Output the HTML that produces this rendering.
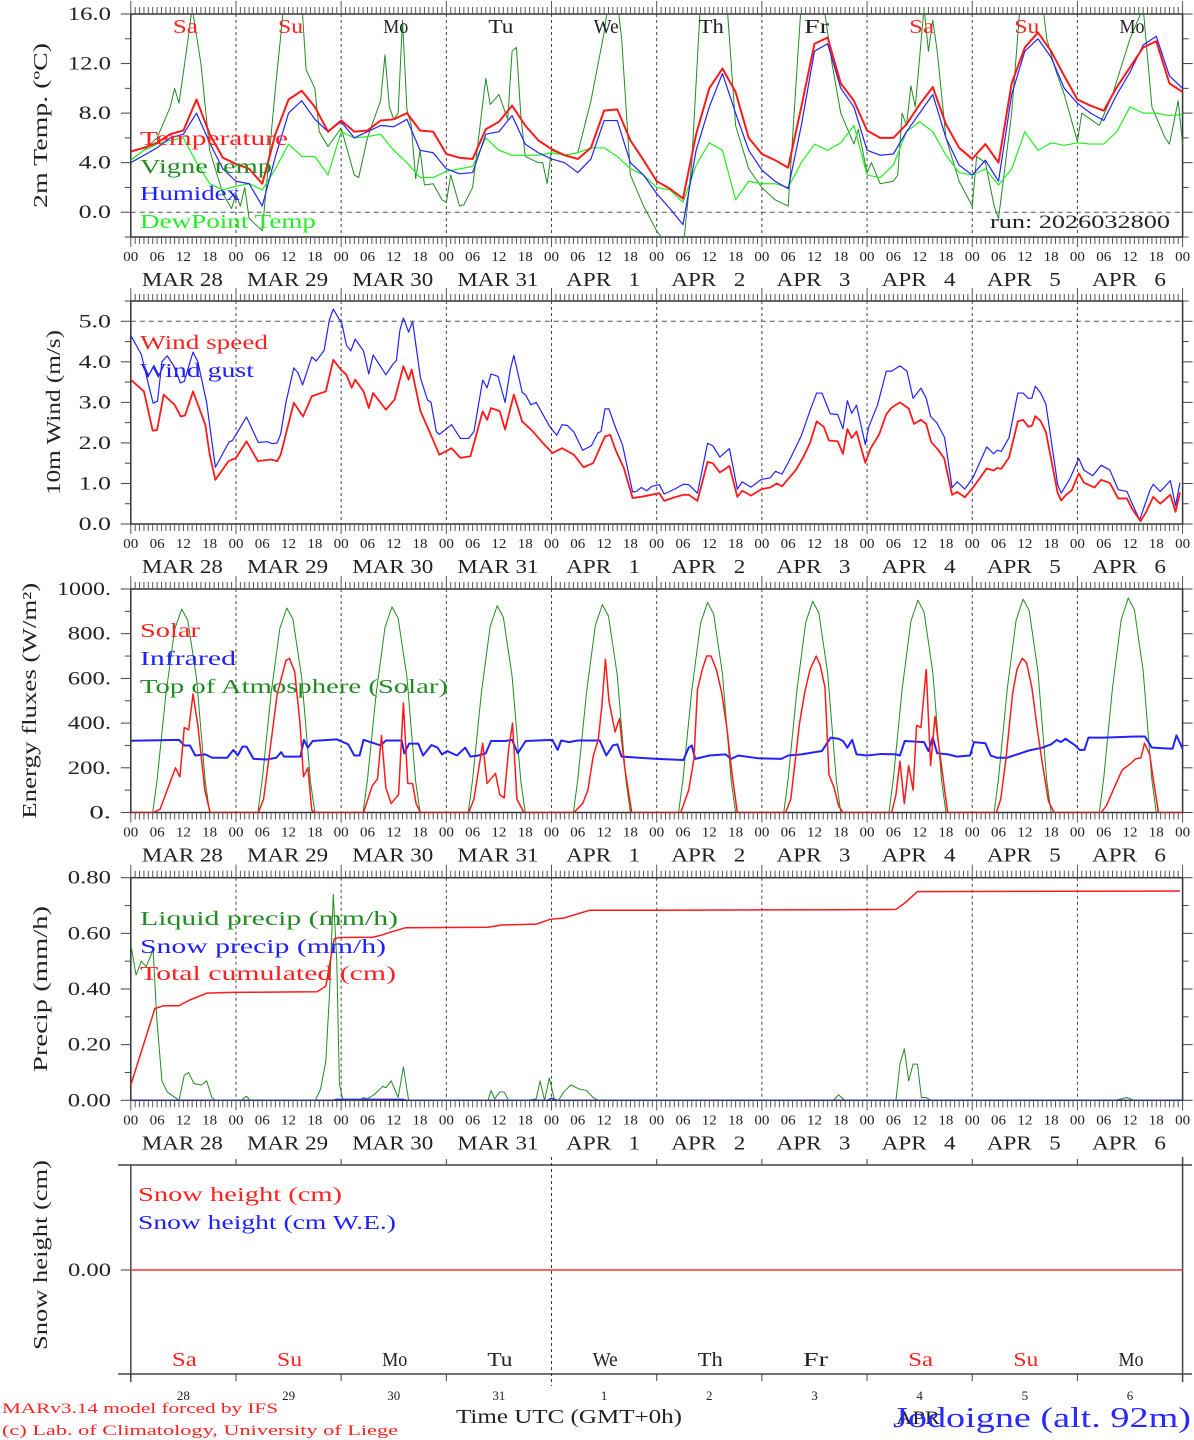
<!DOCTYPE html>
<html><head><meta charset="utf-8"><title>MAR forecast Jodoigne</title>
<style>
html,body{margin:0;padding:0;background:#fff;}
svg{display:block;font-family:"Liberation Serif",serif;}
text{white-space:pre;}
</style></head>
<body>
<svg id="chart" xmlns="http://www.w3.org/2000/svg" width="1194" height="1440" viewBox="0 0 1194 1440"></svg>
<script>
// ---------- DATA ----------
const dayNames = ["Sa","Su","Mo","Tu","We","Th","Fr","Sa","Su","Mo"];
const dayNums = ["28","29","30","31","1","2","3","4","5","6"];
const dateLabels = ["MAR 28","MAR 29","MAR 30","MAR 31","APR   1","APR   2","APR   3","APR   4","APR   5","APR   6"];
const hourLabels = ["00","06","12","18"];

// Panel 1 (3-hourly, h=0..240)
const tempVals = [4.9,5.2,5.6,6.3,6.6,9.1,6.3,4.4, 3.9,3.5,2.3,6.3,9.1,9.8,8.5,6.5, 7.4,6.5,6.6,7.4,7.5,8.0,6.6,6.5, 4.7,4.4,4.3,6.7,7.3,8.6,7.0,5.8, 5.1,4.6,4.3,5.2,8.2,8.3,5.8,4.2, 2.5,1.9,1.1,6.3,10.0,11.6,9.7,6.0, 4.7,4.2,3.6,8.5,13.6,14.1,10.4,9.0, 6.6,6.0,6.0,7.1,8.7,10.1,7.1,5.2, 4.3,5.5,4.0,10.4,13.3,14.5,13.0,11.0, 9.1,8.6,8.2,10.1,11.7,13.3,13.8,10.4, 9.7];
const humidexVals = [4.0,4.6,5.2,6.0,6.3,8.0,5.6,3.5, 2.5,2.3,0.5,4.5,8.0,9.0,7.5,6.5, 7.3,6.0,6.5,7.0,6.9,7.5,5.0,4.8, 3.5,3.1,3.2,6.3,6.5,7.8,5.5,4.8, 4.3,4.0,3.2,4.3,7.4,7.4,4.0,3.0, 1.5,0.3,-1.0,5.0,8.5,11.2,8.0,5.0, 3.4,2.5,1.9,7.0,13.0,13.6,10.0,8.5, 5.0,4.6,4.7,6.5,8.0,9.5,6.0,3.8, 3.0,4.2,2.5,9.5,13.0,14.0,12.5,10.0, 8.8,8.0,7.4,9.5,11.3,13.5,14.2,11.0, 10.0];
const dewVals = [4.2,5.0,5.5,5.8,6.0,4.0,2.3,1.8, 2.1,2.3,1.8,3.5,5.5,4.5,4.5,3.0, 6.5,6.0,6.1,6.3,5.0,4.0,2.8,2.8, 3.3,3.5,3.7,6.0,5.0,4.6,4.6,4.6, 4.8,4.6,4.8,5.2,5.2,4.5,3.5,3.0, 2.0,1.8,0.8,3.8,5.6,5.0,1.0,2.5, 2.3,2.3,2.0,4.0,5.5,5.0,5.6,7.0, 3.0,2.8,3.8,6.5,7.3,6.5,4.6,3.2, 3.0,3.5,2.2,3.5,6.5,5.0,5.6,5.4, 5.6,5.5,5.5,6.5,8.5,8.0,8.0,7.8, 7.9];
const vigneHours = [0,3,6,9,10,11,13,14,16,18,21,23,24,25,26,27,30,33,35,39,40,42,43,45,48,51,52,54,57,58,59,60,61,62,63,64,65,66,67,69,71,72,73,75,76,78,81,82,84,86,87,88,89,90,93,94,95,96,99,102,105,108,109,111,112,114,117,120,122,123,126,128,130,136,137,138,141,144,147,150,153,158,160,162,165,166,168,169,171,174,175,176,177,178,179,181,182,183,184,186,189,192,193,195,197,198,201,203,208,209,211,213,216,217,219,221,224,228,231,233,236,237,239,240];
const vigneVals = [4.2,5.0,6.0,8.5,10.0,8.8,13.8,16.5,12,5.0,1.5,0.3,1.5,0.5,2.0,-0.5,-1.5,10.0,17,17,11.5,10.0,6.5,5.3,6.8,3.0,2.8,6.0,9.0,12.7,8.5,7.5,8.0,15.5,8.3,7.0,2.7,5.0,2.2,2.3,1.0,0.8,3.0,0.5,0.6,2.0,10.8,8.7,9.5,7.5,13.0,13.3,7.8,4.5,4.0,4.0,2.3,5.0,4.6,4.8,9.0,14.5,17,17,14.0,3.0,0.5,-1.5,-2.5,-3,-3,4,17,17,12,7.0,3.5,2.0,1.0,0.5,17,17,12,8.0,5.5,6.7,3.2,4.0,2.3,2.5,3.0,8.0,7.0,10.2,8.5,16.5,13.0,15.5,13,6.0,2.5,0.5,4.5,4.0,0.5,-0.5,8.0,17,17,14,11.5,9.5,5.7,8.0,7.5,7.0,9.5,14.0,16.5,8.5,6.0,5.5,9.0,5.5];

// Panel 2 wind
const windHours = [0,3,5,6,7.5,10,11.4,12.4,14.2,17,18,19.3,22.3,24,26.4,29,32,33.4,34.2,37.2,39.3,41.3,44.5,46.2,48,49.2,50.4,51.2,53.1,54.3,55.3,58.2,60.2,62.2,63.4,64.1,66.1,68.1,70.4,73.2,75.2,77.5,80.3,81.3,82.2,84.2,85.4,87.4,89.3,91.7,94,96.2,98.4,101.1,103.3,105.5,108.2,109.4,110.6,112.5,114.5,116.9,118.8,120.6,121.7,124.1,126.1,127.3,129.3,131.6,132.8,134.4,136.6,138.4,139.5,141.5,143.9,145.9,147.4,148.6,151.8,153.4,155,156.5,158.1,159.3,161.3,162.5,163.5,164.5,165.6,167.6,168.8,170.8,172.4,173.6,175.5,177.5,178.7,180.3,181.5,182.6,184.2,185.6,187.4,188.6,190.3,192.2,195.3,196.9,197.7,198.6,200.4,202.4,203.6,204.8,205.6,206.4,207.6,208.8,211.5,212.3,213.5,214.7,216.3,217.5,219.9,221.4,223.4,225.3,227.3,228.5,230.4,231.7,233.3,234.9,237.2,238.4,239.4];
const windSpeed = [3.56,3.27,2.30,2.32,3.19,2.94,2.65,2.68,3.27,2.45,1.71,1.09,1.55,1.63,2.04,1.55,1.59,1.55,1.71,2.99,2.65,3.15,3.27,4.05,3.80,3.68,3.36,3.56,3.27,2.86,3.23,2.82,3.07,3.89,3.56,3.81,2.78,2.29,1.71,1.87,1.63,1.67,2.78,2.57,2.86,2.78,2.33,3.19,2.53,2.29,2.0,1.75,1.87,1.71,1.40,1.50,2.16,2.20,1.83,1.38,0.64,0.68,0.72,0.76,0.57,0.66,0.72,0.72,0.57,1.53,1.50,1.27,1.43,0.67,0.82,0.70,0.86,0.90,1.00,0.93,1.34,1.64,2.0,2.53,2.40,2.06,2.04,1.73,2.34,2.12,2.28,1.51,1.86,2.22,2.71,2.87,3.00,2.85,2.47,2.57,2.47,2.03,1.83,1.62,0.72,0.79,0.66,0.90,1.37,1.32,1.38,1.36,1.64,2.53,2.57,2.40,2.42,2.66,2.54,2.27,0.76,0.58,0.73,0.83,1.25,1.02,0.90,1.09,1.01,0.63,0.63,0.37,0.07,0.30,0.67,0.50,0.72,0.30,0.78];
const gustHours = [0,2.4,3.9,5.1,6.1,7.1,8.3,9.8,11.3,12.2,14.2,15.3,17.3,19.3,22.4,23.2,26.4,29.1,31.1,32.3,33.4,34.2,35.4,37.2,38.2,39.2,41.3,42.3,44.1,45.3,46.2,48.2,49.2,50.2,51.2,53.1,54.3,55.3,58.2,59.8,60.6,61.4,62.2,63.4,64.3,66.1,67.7,68.5,69.7,70.4,73.2,75.2,77.1,78.3,80.3,81.3,82.2,83.8,85.4,86.6,87.4,89.3,90.1,91.3,92.5,95.6,97.2,98.4,99.6,101.1,103.1,105.1,106.6,107.3,108.2,109.1,110.6,112.2,114.5,115.3,116.5,117.7,118.9,120.6,121.7,124.1,126.1,127.3,129.3,131.6,132.8,134.4,136.6,138.4,139.5,141.5,143.9,145.9,147.1,148.6,150.6,153,155,156.5,157.7,159.6,161.3,162.5,163.5,164.5,165.6,167.6,168.4,170.4,172.4,173.6,175.5,177.1,178.5,180.3,181.5,182.5,183.9,185.7,187.4,188.6,190.3,192.2,195.3,196.9,197.7,198.6,200.4,202.4,203.6,204.8,205.6,206.4,207.6,208.8,211.5,212.3,214.3,216.3,217.5,219.5,221.4,223.4,225.3,227.3,228.5,230.2,232.5,233.3,234.9,237.2,238.4,239.4];
const gustVals = [4.65,4.18,3.5,2.98,3.03,4.0,4.15,3.90,3.48,3.52,4.24,4.0,3.0,1.40,2.02,2.06,2.64,2.01,2.03,1.98,2.0,2.22,3.0,3.85,3.72,3.43,4.12,4.02,4.28,5.03,5.30,4.93,4.41,4.27,4.56,4.27,3.70,4.17,3.68,3.94,4.03,4.78,5.08,4.73,5.00,3.60,3.06,3.0,2.28,2.21,2.45,2.11,2.11,2.28,3.55,3.36,3.70,3.64,3.0,3.81,4.16,3.25,3.18,2.94,3.0,2.40,2.19,2.45,2.43,2.27,1.82,1.93,2.25,2.28,2.84,2.84,2.38,1.95,0.79,0.80,0.90,0.82,0.93,0.97,0.74,0.86,0.98,0.97,0.76,1.99,1.93,1.65,1.86,0.86,1.04,0.91,1.10,1.14,1.30,1.23,1.64,2.18,2.80,3.23,3.23,2.72,2.70,2.35,3.04,2.73,2.93,1.96,2.40,2.94,3.77,3.77,3.90,3.77,3.10,3.35,3.10,2.65,2.50,2.13,0.90,1.04,0.86,1.15,1.90,1.73,1.82,1.79,2.13,3.23,3.23,3.10,3.10,3.40,3.23,2.96,0.97,0.76,1.12,1.62,1.33,1.19,1.45,1.33,0.85,0.80,0.50,0.10,0.82,0.98,0.80,1.07,0.45,1.02];

// Panel 3 energy
const toaPeaks = [910,915,920,925,930,940,945,950,955,960];
const toaShapeHours = [5,6,8,10,11.6,13,15,17,18];
const toaShapeFrac = [0,0.16,0.58,0.9,1,0.945,0.66,0.15,0];
const solarHours = [0,5.1,6.7,8.3,10.2,11.2,12.2,13.2,14.2,15.3,16.9,18.1, 29.1,30.3,31.9,33.4,35.4,36.2,37.4,38.6,39.4,40.4,41.3,42.1, 53.1,55.1,56.3,57.2,58.2,59.4,61.1,62.2,63.2,64.3,65.1,66.1, 77.1,78.3,79.5,80.3,81.3,83.2,84.2,85.2,86.2,87.1,88.1,89.7, 101.1,103.1,104.3,105.5,106.7,107.5,108.3,109.1,110.5,111.5,112.7,114.3, 125.5,127.3,128.5,129.3,130.4,131.4,132.4,133.6,134.8,136,137.2,138.4, 149.4,150.6,152.6,153.8,155,156.4,157.3,158.4,159.3,160.5,161.5,162.5, 173.6,174.6,175.5,176.5,177.5,178.5,179.3,180.3,181.5,182.5,183.5,184.7,185.7,186.4, 197.5,198.5,199.7,201.2,202.2,203.4,204.4,205.6,206.8,208,209.4,210.7, 221.4,222.6,224.6,226.2,228.2,229.3,230.5,231.3,232.5,233.3,234.5,240];
const solarVals = [0,0,15,100,200,160,380,370,530,390,100,0, 0,60,300,530,680,690,630,400,160,200,10,0, 0,120,150,345,110,40,80,490,130,130,40,0, 0,60,210,310,130,175,80,65,280,400,60,0, 0,40,100,250,330,480,685,500,360,420,200,0, 0,100,240,550,640,700,700,640,540,380,170,0, 0,60,400,540,640,700,660,560,170,110,30,0, 0,80,230,40,210,100,390,380,640,210,430,250,100,0, 0,60,240,530,640,690,670,560,380,220,50,0, 0,30,120,190,220,240,245,310,260,150,0,0];
const irHours = [0,11,12.2,13.5,14.7,17,18.6,22,23.4,24.4,25.5,26.4,28,31,33.2,34.3,35,38.7,39.5,40.4,41.5,43,47,49.6,51,52.2,53.1,57,58.2,61.8,62.4,63.5,65.6,66.7,68.6,70,71,72.2,74.4,76.3,77.5,79.3,81,82.2,85.4,87,88.3,90.1,96.2,97.4,98.2,100,102,107,108.5,110,111,112,120,126.1,127.3,128,128.8,132,135.7,137,138.6,143,148.4,150,153,157.7,159.7,161.5,162.5,163.5,164.6,165.6,168,171.3,174.6,175.5,176.6,181,182,183,184,186.5,188.5,191.5,192.4,195,196.2,197.6,200,203,205,208,210,211.3,212.2,213.3,215.5,216.5,217.6,218.5,222,229.4,231.4,233,237.7,238.6,240];
const irVals = [321,325,300,300,255,260,245,245,280,255,295,295,240,237,245,270,250,250,325,290,320,322,327,305,255,255,325,300,322,322,265,308,308,255,302,290,260,275,255,290,250,255,265,320,320,325,265,320,325,280,322,315,322,322,255,300,305,250,240,235,290,300,240,255,260,240,255,243,240,255,260,275,335,330,320,290,325,260,255,262,260,255,320,315,275,335,265,260,250,255,315,310,255,245,245,265,278,290,305,325,315,330,300,280,280,335,335,340,340,290,285,345,285];

// Panel 4 precipitation
const liqHours = [0,1.2,2.4,3.5,5.1,5.9,7.1,8.3,11,12.2,13.2,14.4,16.1,17.3,18.5,19.3,25.2,26.4,27.2,42.1,43.3,44.5,45.4,46.2,47,47.6,48.4,52.3,53.1,53.9,55.5,57.5,58.2,59.4,61,62.2,63.4,81.5,82.2,83,84.2,85.2,86.2,90.5,92.5,93.4,94.4,95.5,96.6,97.6,98.8,100.4,102.4,104,105.5,106.7,160.3,161.5,162.9,174.6,175.5,176.5,177.5,178.5,179.5,180.4,181.5,182.5,224.6,227.3,228.9,240];
const liqVals = [0.56,0.45,0.50,0.48,0.54,0.30,0.07,0.03,0.0,0.09,0.10,0.06,0.055,0.07,0.01,0,0,0.015,0,0,0.04,0.14,0.40,0.74,0.50,0.06,0,0,0.01,0.005,0.02,0.05,0.045,0.07,0.01,0.12,0,0,0.035,0.005,0.03,0.03,0,0,0.005,0.07,0,0.08,0.005,0,0.03,0.055,0.04,0.035,0.01,0,0,0.02,0,0,0.13,0.185,0.07,0.13,0.13,0.01,0.01,0,0,0.01,0,0];
const snowPHours = [0,46,47,62,63,95,96,97,240];
const snowPVals = [0,0,0.004,0.004,0,0,0.008,0,0];
const cumHours = [0,5.5,7.5,11,13.4,17.3,23.2,42.5,44.5,46.4,47.6,55.1,57.1,59.4,62.6,81.5,84.6,92.5,95.6,98.8,104.7,120,161.3,174.6,176.7,179.5,239.4];
const cumVals = [0.055,0.33,0.34,0.34,0.36,0.385,0.388,0.39,0.41,0.58,0.585,0.586,0.593,0.605,0.62,0.622,0.63,0.633,0.65,0.655,0.683,0.683,0.685,0.686,0.71,0.75,0.752];

// Panel 5 snow height
const snowHHours = [0,240];
const snowHVals = [0,0];

// ---------- DRAWING ----------
const NS = "http://www.w3.org/2000/svg";
const svg = document.getElementById("chart");
const X0 = 130.8, PXH = 4.3825;
function X(h){ return X0 + h*PXH; }
function mk(tag, attrs, parent){
  const e = document.createElementNS(NS, tag);
  for (const k in attrs) e.setAttribute(k, attrs[k]);
  (parent||svg).appendChild(e);
  return e;
}
function txt(x,y,s,size,color,anchor,name,len){
  const t = mk("text",{x:x,y:y,"font-size":size,fill:color,"text-anchor":anchor||"start"});
  if (len){ t.setAttribute("textLength",len); t.setAttribute("lengthAdjust","spacingAndGlyphs"); }
  t.textContent = s;
  
  
  return t;
}
function ln(x1,y1,x2,y2,color,w,dash,name){
  const l = mk("line",{x1:x1,y1:y1,x2:x2,y2:y2,stroke:color,"stroke-width":w});
  if (dash) l.setAttribute("stroke-dasharray",dash);
  if (name){
    
    
  }
  return l;
}

const panels = [
  {id:"temp", top:14, bot:237, vmin:-2, vmax:16, labels:[0,4,8,12,16], fmt:v=>v.toFixed(1), minor:2, title:"2m Temp. (ºC)", tlen:165, tx:47, dashV:0},
  {id:"wind", top:301, bot:524, vmin:0, vmax:5.5, labels:[0,1,2,3,4,5], fmt:v=>v.toFixed(1), minor:0.5, title:"10m Wind (m/s)", tlen:165, tx:60, dashV:5},
  {id:"energy", top:589, bot:812.5, vmin:0, vmax:1000, labels:[0,200,400,600,800,1000], fmt:v=>v.toFixed(0)+".", minor:100, title:"Energy fluxes (W/m²)", tlen:236, tx:36},
  {id:"precip", top:877.7, bot:1100.3, vmin:0, vmax:0.8, labels:[0,0.2,0.4,0.6,0.8], fmt:v=>v.toFixed(2), minor:0.1, title:"Precip (mm/h)", tlen:166, tx:47},
];
function Yf(p){ return v => p.bot - (v - p.vmin)/(p.vmax - p.vmin)*(p.bot - p.top); }

panels.forEach((p,pi)=>{
  const Y = Yf(p);
  const cp = mk("clipPath",{id:"clip"+pi});
  mk("rect",{x:X0,y:p.top,width:X(240)-X0,height:p.bot-p.top},cp);
  for (let d=1; d<10; d++) ln(X(d*24),p.top,X(d*24),p.bot,"#444",1,"3,3","day-divider");
  if (p.dashV!==undefined) ln(X0,Y(p.dashV),X(240),Y(p.dashV),"#555",1,"5,4","reference-line");
  const fr = mk("rect",{x:X0,y:p.top,width:X(240)-X0,height:p.bot-p.top,fill:"none",stroke:"#333","stroke-width":1.5});
  
  
  for (let h=0; h<=240; h++){
    const big = h%24===0;
    ln(X(h),p.top-(big?13:7),X(h),p.top,"#555",1);
    ln(X(h),p.bot,X(h),p.bot+(big?10:7),"#555",1);
  }
  for (let v=p.vmin; v<=p.vmax+1e-9; v+=p.minor){
    const major = p.labels.some(l=>Math.abs(l-v)<1e-9);
    const L = major?10:6;
    ln(X0-L,Y(v),X0,Y(v),"#444",1);
    ln(X(240),Y(v),X(240)+L,Y(v),"#444",1);
  }
  p.labels.forEach(v=>{
    const s = p.fmt(v);
    txt(111,Y(v)+6,s,19,"#222","end","y-tick-label",s.length*10.8);
  });
  const t = txt(0,0,p.title,20,"#222","middle","y-axis-title",p.tlen);
  t.setAttribute("transform","translate("+p.tx+","+((p.top+p.bot)/2)+") rotate(-90)");
  for (let d=0; d<10; d++){
    for (let k=0;k<4;k++) txt(X(d*24+k*6),p.bot+24,hourLabels[k],14,"#222","middle","x-hour-label",15);
    const dl = dateLabels[d];
    txt(X(d*24+12)-1,p.bot+49,dl,20,"#222","middle","date-label",dl.startsWith("MAR")?81:74);
  }
  txt(X(240),p.bot+24,"00",14,"#222","middle","x-hour-label",15);
  p.Y = Y; p.clip = "url(#clip"+pi+")";
});

function series(p, hours, vals, color, w, name){
  let d = "";
  for (let i=0;i<vals.length;i++) d += (i?"L":"M") + X(hours[i]).toFixed(2) + "," + p.Y(vals[i]).toFixed(2);
  const path = mk("path",{d:d,fill:"none",stroke:color,"stroke-width":w,"stroke-linejoin":"round","clip-path":p.clip});
  
  
  return path;
}
const hours3 = tempVals.map((_,i)=>i*3);
const P1=panels[0],P2=panels[1],P3=panels[2],P4=panels[3];

// Panel 1
series(P1, vigneHours, vigneVals, "#228b22", 1, "vigne-temp-line");
series(P1, hours3, dewVals, "#22ee22", 1.2, "dewpoint-line");
series(P1, hours3, humidexVals, "#2222ff", 1.2, "humidex-line");
series(P1, hours3, tempVals, "#ff1a1a", 2, "temperature-line");
dayNames.forEach((n,d)=>txt(X(d*24+12)+2,33,n,20,(n==="Sa"||n==="Su")?"#ff2222":"#222","middle","weekday-label",n.length*12.5));
txt(140,145,"Temperature",20,"#ff2020","start","legend-temperature",148);
txt(140,173,"Vigne temp",20,"#228b22","start","legend-vigne-temp",132);
txt(140,200,"Humidex",20,"#2020ff","start","legend-humidex",100);
txt(140,228,"DewPoint Temp",20,"#22ee22","start","legend-dewpoint",176);
txt(990,228,"run: 2026032800",19,"#222","start","run-label",180);

// Panel 2
series(P2, gustHours, gustVals, "#2222ff", 1.2, "wind-gust-line");
series(P2, windHours, windSpeed, "#ff1a1a", 1.8, "wind-speed-line");
txt(140,349,"Wind speed",20,"#ff2020","start","legend-wind-speed",128);
txt(140,377,"Wind gust",20,"#2020ff","start","legend-wind-gust",114);

// Panel 3
const toaH = [], toaV = [];
toaPeaks.forEach((pk,d)=>{
  if (d===0){ toaH.push(0); toaV.push(0); }
  toaShapeHours.forEach((sh,k)=>{ toaH.push(d*24+sh); toaV.push(pk*toaShapeFrac[k]); });
});
toaH.push(240); toaV.push(0);
series(P3, toaH, toaV, "#228b22", 1, "toa-solar-line");
series(P3, irHours, irVals, "#2222ff", 2, "infrared-line");
series(P3, solarHours, solarVals, "#ff1a1a", 1.5, "solar-line");
txt(140,637,"Solar",20,"#ff2020","start","legend-solar",60);
txt(140,665,"Infrared",20,"#2020ff","start","legend-infrared",96);
txt(140,693,"Top of Atmosphere (Solar)",20,"#228b22","start","legend-toa",308);

// Panel 4
series(P4, liqHours, liqVals, "#228b22", 1, "liquid-precip-line");
series(P4, snowPHours, snowPVals, "#2222ff", 1.2, "snow-precip-line");
series(P4, cumHours, cumVals, "#ff1a1a", 1.5, "cumulated-precip-line");
txt(140,925,"Liquid precip (mm/h)",20,"#228b22","start","legend-liquid-precip",258);
txt(140,953,"Snow precip (mm/h)",20,"#2020ff","start","legend-snow-precip",246);
txt(140,980,"Total cumulated (cm)",20,"#ff2020","start","legend-total-cumulated",256);

// Panel 5 snow height
const P5 = {top:1165, bot:1374, zero:1270};
ln(118,P5.top,1192,P5.top,"#444",1.5,null,"snow-panel-top-axis");
ln(118,P5.bot,1192,P5.bot,"#444",1.5,null,"snow-panel-bottom-axis");
ln(X0,P5.top,X0,P5.bot+8,"#444",1.5,null,"snow-panel-left-axis");
ln(X(240),P5.top-8,X(240),P5.bot+8,"#444",1.5,null,"snow-panel-right-axis");
ln(X(96),P5.top-8,X(96),P5.bot+12,"#333",1,"3,3","snow-panel-apr1-divider");
for (let d=1; d<10; d++){
  if (d===4) continue;
  ln(X(d*24),P5.top-6,X(d*24),P5.top,"#444",1);
  ln(X(d*24),P5.bot,X(d*24),P5.bot+7,"#444",1);
}
ln(X0-10,P5.zero,X0,P5.zero,"#444",1);
txt(111,P5.zero+6,"0.00",19,"#222","end","y-tick-label",43);
const t5 = txt(0,0,"Snow height (cm)",20,"#222","middle","y-axis-title",190);
t5.setAttribute("transform","translate(47,1255) rotate(-90)");
(function(){
  let d="";
  for (let i=0;i<snowHVals.length;i++) d += (i?"L":"M") + X(snowHHours[i]) + "," + (P5.zero - snowHVals[i]*50);
  const path = mk("path",{d:d,fill:"none",stroke:"#ff3030","stroke-width":1.5});
  
  
})();
txt(138,1201,"Snow height (cm)",20,"#ff2020","start","legend-snow-height",204);
txt(138,1229,"Snow height (cm W.E.)",20,"#2020ff","start","legend-snow-height-we",258);
dayNames.forEach((n,d)=>txt(X(d*24+12)+1,1366,n,20,(n==="Sa"||n==="Su")?"#ff2222":"#222","middle","weekday-label",n.length*12.5));
dayNums.forEach((n,d)=>txt(X(d*24+12),1400,n,13,"#222","middle","day-number-label"));

// footer
txt(2,1413,"MARv3.14 model forced by IFS",15,"#ff2020","start","model-credit",276);
txt(2,1435,"(c) Lab. of Climatology, University of Liege",15,"#ff2020","start","lab-credit",396);
txt(569,1423,"Time UTC (GMT+0h)",20,"#222","middle","x-axis-title",226);
txt(918,1424,"APR",19,"#222","middle","x-month-label",44);
txt(893,1427,"Jodoigne (alt. 92m)",28,"#2a2aff","start","station-label",298);
</script>
</body></html>
